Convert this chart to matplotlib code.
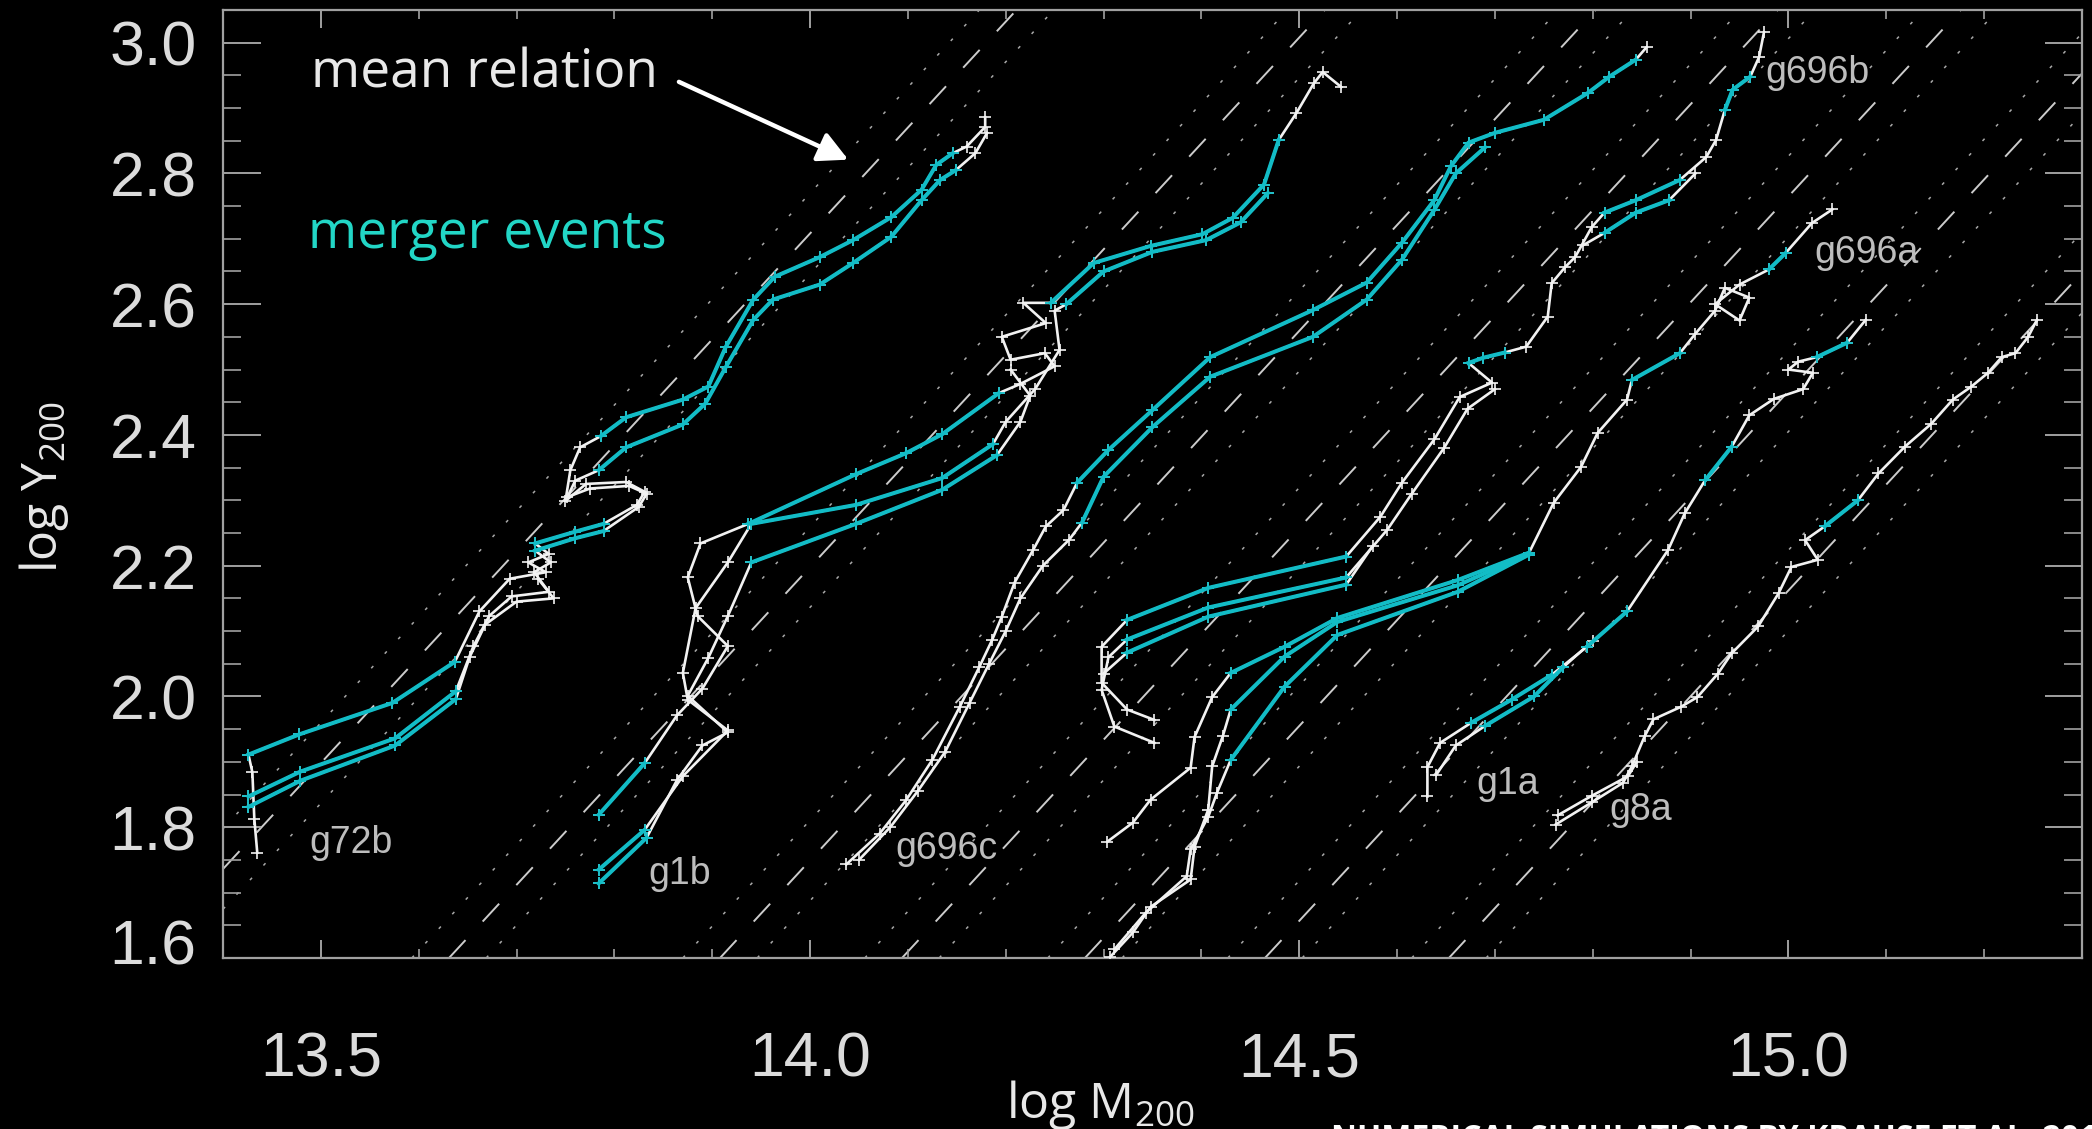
import matplotlib
matplotlib.use("Agg")
import matplotlib.pyplot as plt
from matplotlib.transforms import ScaledTranslation

# -------------------------
# data
# -------------------------

# mean relation lines: x where each dashed line meets log Y = 1.6, and their slope
mean_x0 = [13.316, 13.631, 13.908, 14.094, 14.281, 14.465, 14.653]
mean_slope = 1.62
scatter_dx = 0.038

# cluster tracks: x, y and a merger flag for each segment (1 = merger event)
g72b_x1 = [13.435, 13.432, 13.430, 13.426, 13.478, 13.573, 13.637, 13.662, 13.693, 13.730,
           13.712, 13.733, 13.719, 13.760, 13.789, 13.823, 13.831, 13.812, 13.771, 13.750,
           13.755, 13.765, 13.786, 13.812, 13.870, 13.896, 13.914, 13.942, 13.964, 14.010,
           14.044, 14.083, 14.114, 14.129, 14.146, 14.160, 14.179, 14.179]
g72b_y1 = [1.761, 1.813, 1.884, 1.911, 1.942, 1.990, 2.053, 2.130, 2.180, 2.190,
           2.205, 2.218, 2.234, 2.252, 2.264, 2.293, 2.313, 2.328, 2.325, 2.299,
           2.346, 2.381, 2.398, 2.427, 2.454, 2.474, 2.535, 2.607, 2.642, 2.672,
           2.698, 2.733, 2.775, 2.813, 2.831, 2.841, 2.871, 2.886]
g72b_m1 = [0, 0, 0, 1, 1, 1, 0, 0, 0, 0, 0, 0, 1, 1, 0, 0, 0, 0, 0, 0, 0, 0,
           1, 1, 1, 1, 1, 1, 1, 1, 1, 1, 1, 1, 0, 0, 0]

g72b_x2 = [13.426, 13.479, 13.576, 13.638, 13.656, 13.672, 13.695, 13.733, 13.718, 13.735,
           13.719, 13.760, 13.789, 13.825, 13.833, 13.815, 13.775, 13.752, 13.760, 13.784,
           13.812, 13.870, 13.893, 13.914, 13.942, 13.962, 14.010, 14.044, 14.083, 14.114,
           14.133, 14.149, 14.169, 14.181]
g72b_y2 = [1.847, 1.885, 1.936, 2.008, 2.077, 2.123, 2.153, 2.160, 2.190, 2.205,
           2.223, 2.242, 2.253, 2.290, 2.310, 2.322, 2.318, 2.305, 2.330, 2.346,
           2.381, 2.416, 2.448, 2.504, 2.576, 2.607, 2.630, 2.663, 2.703, 2.759,
           2.790, 2.805, 2.831, 2.862]
g72b_m2 = [1, 1, 1, 0, 0, 0, 0, 0, 0, 0, 1, 1, 0, 0, 0, 0, 0, 0, 0,
           1, 1, 1, 1, 1, 1, 1, 1, 1, 1, 1, 1, 0, 0]

g72b_x3 = [13.426, 13.479, 13.576, 13.638, 13.652, 13.668, 13.700, 13.738, 13.722]
g72b_y3 = [1.831, 1.871, 1.925, 1.996, 2.060, 2.110, 2.145, 2.150, 2.180]
g72b_m3 = [1, 1, 1, 0, 0, 0, 0, 0]

g1b_x1 = [13.784, 13.831, 13.864, 13.890, 13.916, 13.885, 13.875, 13.888, 13.937, 14.047,
          14.098, 14.135, 14.193, 14.215, 14.250, 14.240, 14.205, 14.196, 14.241, 14.218,
          14.246, 14.290, 14.348, 14.401, 14.432, 14.464, 14.479, 14.497, 14.515, 14.524,
          14.543]
g1b_y1 = [1.819, 1.898, 1.971, 2.012, 2.077, 2.123, 2.182, 2.234, 2.264, 2.340,
          2.372, 2.401, 2.464, 2.478, 2.505, 2.525, 2.515, 2.550, 2.571, 2.602,
          2.602, 2.663, 2.689, 2.707, 2.732, 2.783, 2.851, 2.892, 2.938, 2.955,
          2.932]
g1b_m1 = [1, 0, 0, 0, 0, 0, 0, 0, 1, 1, 1, 1, 0, 0, 0, 0, 0, 0, 0, 0,
          1, 1, 1, 1, 1, 1, 0, 0, 0, 0]

g1b_x2 = [13.784, 13.831, 13.870, 13.916, 13.875, 13.870, 13.883, 13.916, 13.940, 14.047,
          14.135, 14.187, 14.200, 14.230, 14.255, 14.250, 14.262, 14.300, 14.350, 14.405,
          14.440, 14.468]
g1b_y2 = [1.735, 1.796, 1.878, 1.948, 1.995, 2.036, 2.135, 2.205, 2.264, 2.293,
          2.334, 2.386, 2.420, 2.470, 2.530, 2.590, 2.600, 2.650, 2.680, 2.698,
          2.725, 2.770]
g1b_m2 = [1, 0, 0, 0, 0, 0, 0, 0, 1, 1, 1, 0, 0, 0, 0, 0, 1, 1, 1, 1, 1]

g1b_x3 = [13.784, 13.833, 13.864, 13.890, 13.916, 13.875, 13.896, 13.916, 13.940, 14.047,
          14.135, 14.191, 14.215, 14.225, 14.205]
g1b_y3 = [1.714, 1.784, 1.872, 1.925, 1.945, 2.001, 2.059, 2.123, 2.205, 2.264,
          2.316, 2.369, 2.420, 2.460, 2.500]
g1b_m3 = [1, 0, 0, 0, 0, 0, 0, 0, 1, 1, 1, 0, 0, 0]

g696c_x1 = [14.037, 14.071, 14.098, 14.125, 14.153, 14.173, 14.186, 14.196, 14.209, 14.228,
            14.241, 14.259, 14.273, 14.305, 14.350, 14.409, 14.514, 14.569, 14.605, 14.638,
            14.655, 14.673, 14.700, 14.750, 14.795, 14.817, 14.844, 14.855]
g696c_y1 = [1.743, 1.790, 1.841, 1.903, 1.984, 2.045, 2.086, 2.122, 2.174, 2.224,
            2.260, 2.285, 2.327, 2.377, 2.438, 2.519, 2.591, 2.633, 2.694, 2.759,
            2.811, 2.847, 2.862, 2.882, 2.923, 2.948, 2.974, 2.993]
g696c_m1 = [0] * 12 + [1] * 14 + [0]

g696c_x2 = [14.050, 14.082, 14.110, 14.138, 14.163, 14.183, 14.200, 14.215, 14.238, 14.265,
            14.278, 14.300, 14.350, 14.409, 14.514, 14.569, 14.605, 14.638, 14.660, 14.690]
g696c_y2 = [1.750, 1.800, 1.855, 1.915, 1.990, 2.050, 2.100, 2.150, 2.200, 2.240,
            2.266, 2.336, 2.412, 2.489, 2.550, 2.607, 2.668, 2.744, 2.800, 2.840]
g696c_m2 = [0] * 10 + [1] * 9

g696b_x1 = [14.352, 14.324, 14.298, 14.298, 14.324, 14.407, 14.548, 14.583, 14.605, 14.638,
            14.664, 14.697, 14.673, 14.688, 14.710, 14.732, 14.754, 14.758, 14.772, 14.782,
            14.799, 14.812, 14.844, 14.889, 14.916, 14.926, 14.935, 14.943, 14.961, 14.970,
            14.975]
g696b_y1 = [1.964, 1.980, 2.021, 2.076, 2.117, 2.166, 2.214, 2.275, 2.327, 2.393,
            2.458, 2.480, 2.510, 2.518, 2.526, 2.535, 2.581, 2.632, 2.657, 2.672,
            2.718, 2.740, 2.759, 2.790, 2.825, 2.851, 2.897, 2.928, 2.948, 2.978,
            3.016]
g696b_m1 = [0, 0, 0, 0, 1, 1, 0, 0, 0, 0, 0, 0, 1, 1, 0, 0, 0, 0, 0, 0, 0,
            1, 1, 0, 0, 0, 1, 1, 0, 0]

g696b_x2 = [14.352, 14.311, 14.298, 14.305, 14.324, 14.407, 14.548, 14.590, 14.615, 14.648,
            14.672, 14.700]
g696b_y2 = [1.929, 1.954, 2.010, 2.060, 2.087, 2.136, 2.182, 2.255, 2.310, 2.380,
            2.440, 2.470]
g696b_m2 = [0, 0, 0, 0, 1, 1, 0, 0, 0, 0, 0]

g696b_x3 = [14.300, 14.324, 14.407, 14.548, 14.575]
g696b_y3 = [2.035, 2.067, 2.122, 2.171, 2.230]
g696b_m3 = [0, 1, 1, 0]

g696b_x4 = [14.790, 14.812, 14.844, 14.878, 14.905]
g696b_y4 = [2.690, 2.709, 2.740, 2.759, 2.800]
g696b_m4 = [0, 1, 1, 0]

g696a_x1 = [14.304, 14.330, 14.348, 14.389, 14.393, 14.411, 14.430, 14.485, 14.539, 14.662,
            14.735, 14.760, 14.788, 14.805, 14.835, 14.840, 14.889, 14.905, 14.925, 14.935,
            14.960, 14.950, 14.925, 14.950, 14.980, 14.997, 15.024, 15.045]
g696a_y1 = [1.778, 1.807, 1.842, 1.891, 1.938, 1.999, 2.036, 2.076, 2.120, 2.178,
            2.220, 2.296, 2.351, 2.403, 2.454, 2.484, 2.525, 2.555, 2.590, 2.625,
            2.610, 2.575, 2.600, 2.630, 2.653, 2.678, 2.724, 2.745]
g696a_m1 = [0] * 6 + [1] * 4 + [0] * 5 + [1] + [0] * 8 + [1] + [0] * 2

g696a_x2 = [14.307, 14.330, 14.348, 14.389, 14.393, 14.407, 14.411, 14.422, 14.430, 14.485,
            14.539, 14.662, 14.735]
g696a_y2 = [1.602, 1.639, 1.678, 1.720, 1.770, 1.827, 1.893, 1.940, 1.980, 2.061,
            2.114, 2.170, 2.218]
g696a_m2 = [0] * 8 + [1] * 4

g696a_x3 = [14.311, 14.343, 14.385, 14.389, 14.407, 14.416, 14.430, 14.485, 14.539, 14.662,
            14.735]
g696a_y3 = [1.613, 1.669, 1.725, 1.766, 1.816, 1.853, 1.903, 2.015, 2.094, 2.160,
            2.217]
g696a_m3 = [0] * 6 + [1] * 4

g1a_x1 = [14.631, 14.631, 14.644, 14.676, 14.717, 14.758, 14.794, 14.835, 14.877, 14.894,
          14.915, 14.942, 14.960, 14.985, 15.015, 15.025, 15.000, 15.010, 15.029, 15.060,
          15.079]
g1a_y1 = [1.847, 1.892, 1.929, 1.960, 1.995, 2.033, 2.076, 2.130, 2.224, 2.280,
          2.331, 2.382, 2.430, 2.455, 2.470, 2.495, 2.500, 2.512, 2.519, 2.541,
          2.576]
g1a_m1 = [0, 0, 0, 1, 1, 0, 1, 0, 0, 0, 1, 0, 0, 0, 0, 0, 0, 0, 1, 0]

g1a_x2 = [14.640, 14.660, 14.690, 14.740, 14.770, 14.800]
g1a_y2 = [1.880, 1.925, 1.955, 2.000, 2.045, 2.085]
g1a_m2 = [0, 0, 1, 1, 0]

g8a_x1 = [14.762, 14.799, 14.831, 14.840, 14.853, 14.862, 14.890, 14.907, 14.928, 14.942,
          14.969, 14.990, 15.003, 15.030, 15.017, 15.037, 15.071, 15.092, 15.119, 15.146,
          15.168, 15.187, 15.204, 15.218, 15.232, 15.245, 15.254]
g8a_y1 = [1.804, 1.838, 1.868, 1.893, 1.939, 1.965, 1.984, 1.999, 2.035, 2.066,
          2.107, 2.158, 2.198, 2.209, 2.239, 2.260, 2.300, 2.341, 2.382, 2.417,
          2.454, 2.474, 2.495, 2.519, 2.525, 2.550, 2.576]
g8a_m1 = [0] * 15 + [1] + [0] * 10

g8a_x2 = [14.764, 14.799, 14.836, 14.845]
g8a_y2 = [1.818, 1.848, 1.878, 1.900]
g8a_m2 = [0, 0, 0]

# cluster names and where they are written
label_names = ["g72b", "g1b", "g696c", "g696b", "g696a", "g1a", "g8a"]
label_x = [13.488, 13.835, 14.087, 14.976, 15.026, 14.681, 14.817]
label_y = [1.776, 1.729, 1.766, 2.953, 2.678, 1.866, 1.827]

# -------------------------
# style
# -------------------------

WHITE = "#f2f2f2"
TEAL = "#12bcc6"
TEXT_TEAL = "#22d6c6"
TICK = "#a0a0a0"

plt.rcParams["mathtext.fontset"] = "custom"
plt.rcParams["mathtext.rm"] = "Open Sans"

fig = plt.figure(figsize=(20.92, 11.29), dpi=100, facecolor="black")
ax = fig.add_axes([0.1066, 0.1515, 0.8886, 0.8397], facecolor="black")

ax.set_xlim(13.4, 15.3)
ax.set_ylim(1.6, 3.05)

# mean relation (dashed) with scatter (dotted)
for x0 in mean_x0:
    ax.axline((x0, 1.6), slope=mean_slope, color="#cccccc", lw=1.4,
              dashes=(12.5, 13.0), zorder=1)
    for dx in (-scatter_dx, scatter_dx):
        ax.axline((x0 + dx, 1.6), slope=mean_slope, color="#a8a8a8", lw=1.1,
                  dashes=(2.0, 11.0), zorder=1)


def draw_strand(x, y, m):
    ax.plot(x, y, color=WHITE, lw=1.9, marker="+", ms=8, mew=1.2, zorder=3)
    i = 0
    while i < len(m):
        if m[i]:
            j = i
            while j < len(m) and m[j]:
                j += 1
            ax.plot(x[i:j + 1], y[i:j + 1], color=TEAL, lw=2.9,
                    marker="+", ms=8, mew=1.3, zorder=4, solid_joinstyle="round")
            i = j
        else:
            i += 1


strands = [
    (g72b_x1, g72b_y1, g72b_m1), (g72b_x2, g72b_y2, g72b_m2), (g72b_x3, g72b_y3, g72b_m3),
    (g1b_x1, g1b_y1, g1b_m1), (g1b_x2, g1b_y2, g1b_m2), (g1b_x3, g1b_y3, g1b_m3),
    (g696c_x1, g696c_y1, g696c_m1), (g696c_x2, g696c_y2, g696c_m2),
    (g696b_x1, g696b_y1, g696b_m1), (g696b_x2, g696b_y2, g696b_m2),
    (g696b_x3, g696b_y3, g696b_m3), (g696b_x4, g696b_y4, g696b_m4),
    (g696a_x1, g696a_y1, g696a_m1), (g696a_x2, g696a_y2, g696a_m2),
    (g696a_x3, g696a_y3, g696a_m3),
    (g1a_x1, g1a_y1, g1a_m1), (g1a_x2, g1a_y2, g1a_m2),
    (g8a_x1, g8a_y1, g8a_m1), (g8a_x2, g8a_y2, g8a_m2),
]
for x, y, m in strands:
    draw_strand(x, y, m)

for name, lx, ly in zip(label_names, label_x, label_y):
    ax.text(lx, ly, name, color="#bdbdbd", fontsize=27, family="Liberation Sans",
            ha="left", va="center", zorder=5)

# annotations
ax.text(13.49, 2.932, "mean relation", color="#e8e8e8", fontsize=38.3,
        family="Open Sans", ha="left", va="baseline")
ax.text(13.487, 2.686, "merger events", color=TEXT_TEAL, fontsize=38.3,
        family="Open Sans", ha="left", va="baseline")
ax.annotate("", xy=(14.039, 2.821), xytext=(13.866, 2.940),
            arrowprops=dict(arrowstyle="-|>,head_length=0.6,head_width=0.31",
                            color="white", lw=3.2, mutation_scale=30,
                            shrinkA=0, shrinkB=0))

# axes, ticks
for side in ax.spines.values():
    side.set_color(TICK)
    side.set_linewidth(1.6)

ax.set_xticks([13.5, 14.0, 14.5, 15.0])
ax.set_xticks([13.4 + 0.1 * k for k in range(1, 19)], minor=True)
ax.set_yticks([1.6, 1.8, 2.0, 2.2, 2.4, 2.6, 2.8, 3.0])
ax.set_yticks([1.6 + 0.05 * k for k in range(1, 29)], minor=True)

ax.tick_params(axis="x", which="major", direction="in", length=13, width=1.4,
               color=TICK, top=True, pad=52)
ax.tick_params(axis="x", which="minor", direction="in", length=6.5, width=1.2,
               color=TICK, top=True)
ax.tick_params(axis="y", which="major", direction="in", length=27, width=1.4,
               color=TICK, right=True, pad=19)
ax.tick_params(axis="y", which="minor", direction="in", length=13, width=1.2,
               color=TICK, right=True)
ax.tick_params(labelcolor="#dcdcdc", labelsize=45)
for lab in ax.get_xticklabels() + ax.get_yticklabels():
    lab.set_family("Liberation Sans")

# the lowest y label sits a little above its tick in the reference
low_lab = ax.get_yticklabels()[0]
low_lab.set_transform(low_lab.get_transform() + ScaledTranslation(0, 12 / 72, fig.dpi_scale_trans))

fig.text(0.526, 0.0097, r"log M$_{\mathrm{200}}$", color="#e8e8e8", fontsize=36,
         family="Open Sans", ha="center", va="baseline")
fig.text(0.021, 0.568, r"log Y$_{\mathrm{200}}$", color="#e8e8e8", fontsize=36,
         family="Open Sans", ha="center", va="center", rotation=90)
fig.text(0.636, 0.0053, "NUMERICAL SIMULATIONS BY KRAUSE ET AL. 2012", color="white",
         fontsize=23, family="Open Sans", weight="bold", ha="left", va="top")

fig.savefig("out.png", dpi=100, facecolor="black")
plt.close(fig)
